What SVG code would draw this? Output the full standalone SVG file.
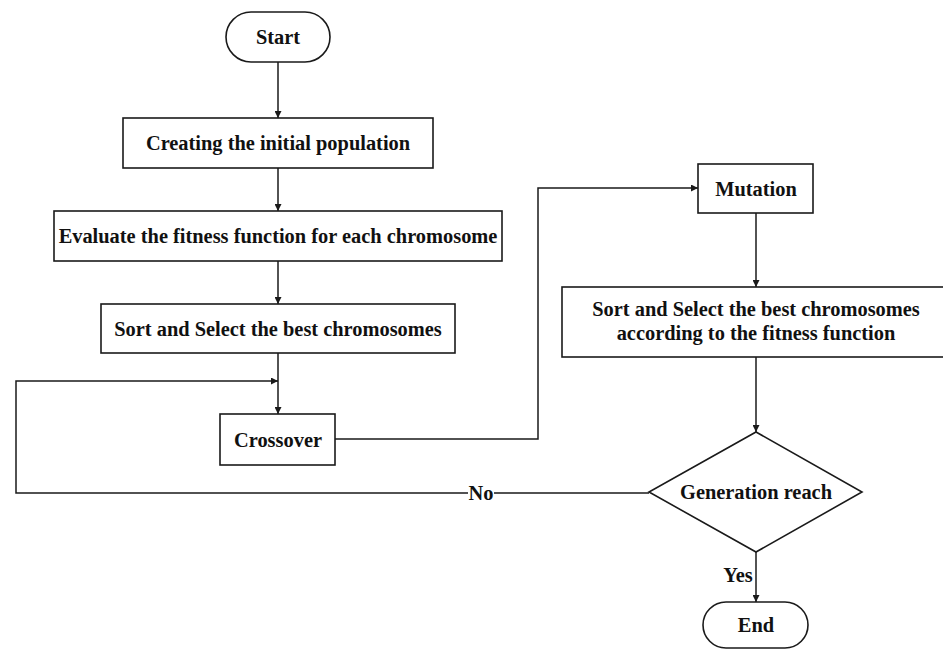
<svg xmlns="http://www.w3.org/2000/svg" width="943" height="649" viewBox="0 0 943 649">
<defs>
<marker id="arr" viewBox="0 0 10 10" refX="10" refY="5" markerWidth="8" markerHeight="7" markerUnits="userSpaceOnUse" orient="auto">
<path d="M0,0 L10,5 L0,10 z" fill="#1a1a1a"/>
</marker>
<style>
.box{fill:#fff;stroke:#1a1a1a;stroke-width:1.6}
.ln{fill:none;stroke:#1a1a1a;stroke-width:1.5}
.t{font-family:"Liberation Serif","Times New Roman",serif;font-weight:bold;font-size:20.4px;fill:#111;text-anchor:middle}
</style>
</defs>
<rect width="943" height="649" fill="#fff"/>
<g id="connectors">
<line class="ln" x1="278" y1="62" x2="278" y2="118" marker-end="url(#arr)"/>
<line class="ln" x1="278" y1="168" x2="278" y2="211" marker-end="url(#arr)"/>
<line class="ln" x1="278" y1="261" x2="278" y2="304" marker-end="url(#arr)"/>
<line class="ln" x1="278" y1="353" x2="278" y2="414" marker-end="url(#arr)"/>
<polyline class="ln" points="649,493 16,493 16,381 278,381" marker-end="url(#arr)"/>
<polyline class="ln" points="335,439 538,439 538,188 698,188" marker-end="url(#arr)"/>
<line class="ln" x1="756" y1="213" x2="756" y2="287" marker-end="url(#arr)"/>
<line class="ln" x1="756" y1="357" x2="756" y2="432" marker-end="url(#arr)"/>
<line class="ln" x1="756" y1="552" x2="756" y2="602" marker-end="url(#arr)"/>
<rect x="468" y="482" width="26" height="22" fill="#fff"/>
<text class="t" x="481" y="500">No</text>
<text class="t" x="738" y="582">Yes</text>
</g>
<g id="start">
<rect class="box" x="226" y="12" width="104" height="50" rx="25" ry="25"/>
<text class="t" x="278" y="44">Start</text>
</g>
<g id="create">
<rect class="box" x="123" y="118" width="310" height="50"/>
<text class="t" x="278" y="150">Creating the initial population</text>
</g>
<g id="evaluate">
<rect class="box" x="54" y="211" width="448" height="50"/>
<text class="t" x="278" y="243">Evaluate the fitness function for each chromosome</text>
</g>
<g id="sort1">
<rect class="box" x="101" y="304" width="354" height="49"/>
<text class="t" x="278" y="336">Sort and Select the best chromosomes</text>
</g>
<g id="crossover">
<rect class="box" x="220" y="414" width="115" height="51"/>
<text class="t" x="278" y="447">Crossover</text>
</g>
<g id="mutation">
<rect class="box" x="698" y="164" width="115" height="49"/>
<text class="t" x="756" y="196">Mutation</text>
</g>
<g id="sort2">
<rect class="box" x="562" y="287" width="388" height="70"/>
<text class="t" x="756" y="316">Sort and Select the best chromosomes</text>
<text class="t" x="756" y="340">according to the fitness function</text>
</g>
<g id="decision">
<polygon class="box" points="756,432 862,492 756,552 649,492"/>
<text class="t" x="756" y="499">Generation reach</text>
</g>
<g id="end">
<rect class="box" x="703" y="602" width="105" height="46" rx="23" ry="23"/>
<text class="t" x="756" y="632">End</text>
</g>
</svg>
